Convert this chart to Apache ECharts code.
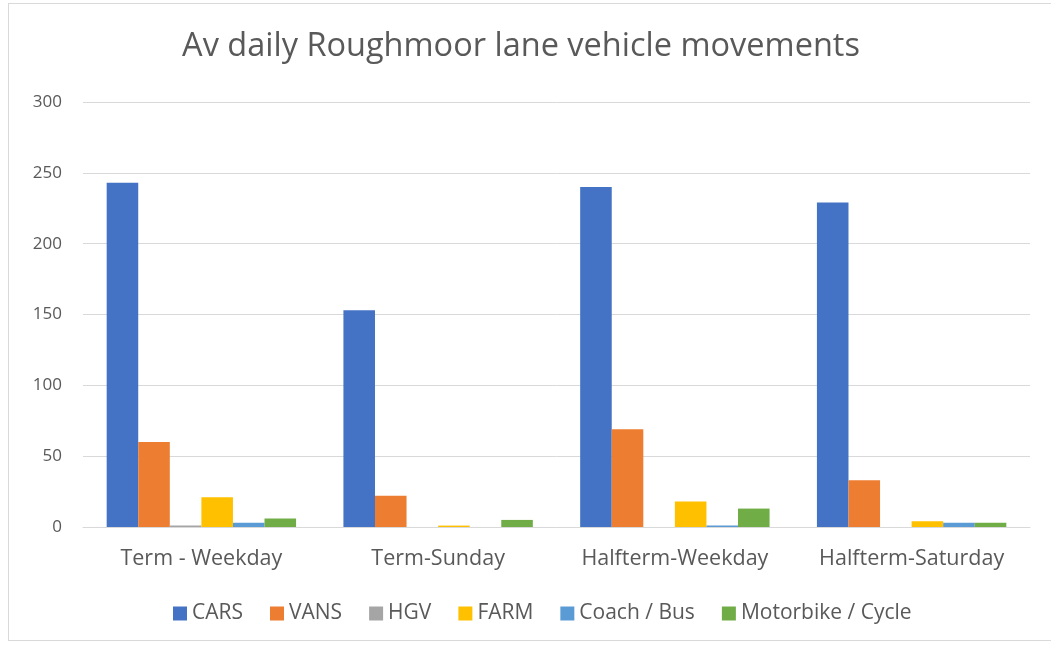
<!DOCTYPE html>
<html>
<head>
<meta charset="utf-8">
<script src="https://cdn.jsdelivr.net/npm/echarts@6/dist/echarts.min.js"></script>
<style>
  html, body { margin: 0; padding: 0; background: #fff; }
  #frame { position: absolute; left: 8px; top: 3px; width: 1060px; height: 638px; border: 1px solid #d9d9d9; box-sizing: border-box; }
  #chart { position: absolute; left: 0; top: 0; width: 1051px; height: 647px; }
</style>
</head>
<body>
<div id="frame"></div>
<div id="chart"></div>
<script>
// categories and series values
const categories = ['Term - Weekday', 'Term-Sunday', 'Halfterm-Weekday', 'Halfterm-Saturday'];
const cars = [243, 153, 240, 229];
const vans = [60, 22, 69, 33];
const hgv = [1, 0, 0, 0];
const farm = [21, 1, 18, 4];
const coach = [3, 0, 1, 3];
const moto = [6, 5, 13, 3];

const seriesNames = ['CARS', 'VANS', 'HGV', 'FARM', 'Coach / Bus', 'Motorbike / Cycle'];
const seriesData = [cars, vans, hgv, farm, coach, moto];
const colors = ['#4472C4', '#ED7D31', '#A5A5A5', '#FFC000', '#5B9BD5', '#70AD47'];

const font = '"Open Sans", Lato, sans-serif';
const chart = echarts.init(document.getElementById('chart'));

chart.setOption({
  animation: false,
  color: colors,
  textStyle: { fontFamily: font },
  title: {
    text: 'Av daily Roughmoor lane vehicle movements',
    left: 516,
    textAlign: 'center',
    top: 25,
    textStyle: { fontSize: 32.5, fontWeight: 'normal', color: '#595959', fontFamily: font }
  },
  legend: {
    data: seriesNames,
    bottom: 18,
    left: 168,
    icon: 'rect',
    itemWidth: 14,
    itemHeight: 14,
    itemGap: 27,
    textStyle: { fontSize: 21, color: '#595959', fontFamily: font }
  },
  grid: { left: 83, right: 21, top: 102, bottom: 120, containLabel: false },
  xAxis: {
    type: 'category',
    data: categories,
    axisLine: { lineStyle: { color: '#d9d9d9', width: 1 } },
    axisTick: { show: false },
    axisLabel: { interval: 0, fontSize: 21.5, color: '#595959', margin: 21 }
  },
  yAxis: {
    type: 'value',
    min: 0,
    max: 300,
    interval: 50,
    axisLine: { show: false },
    axisTick: { show: false },
    splitLine: { lineStyle: { color: '#d9d9d9', width: 1 } },
    axisLabel: { fontSize: 17, color: '#595959', margin: 21 }
  },
  series: seriesNames.map((name, i) => ({
    name: name,
    type: 'bar',
    data: seriesData[i],
    barGap: '0%',
    barCategoryGap: '20%'
  }))
});
</script>
</body>
</html>
